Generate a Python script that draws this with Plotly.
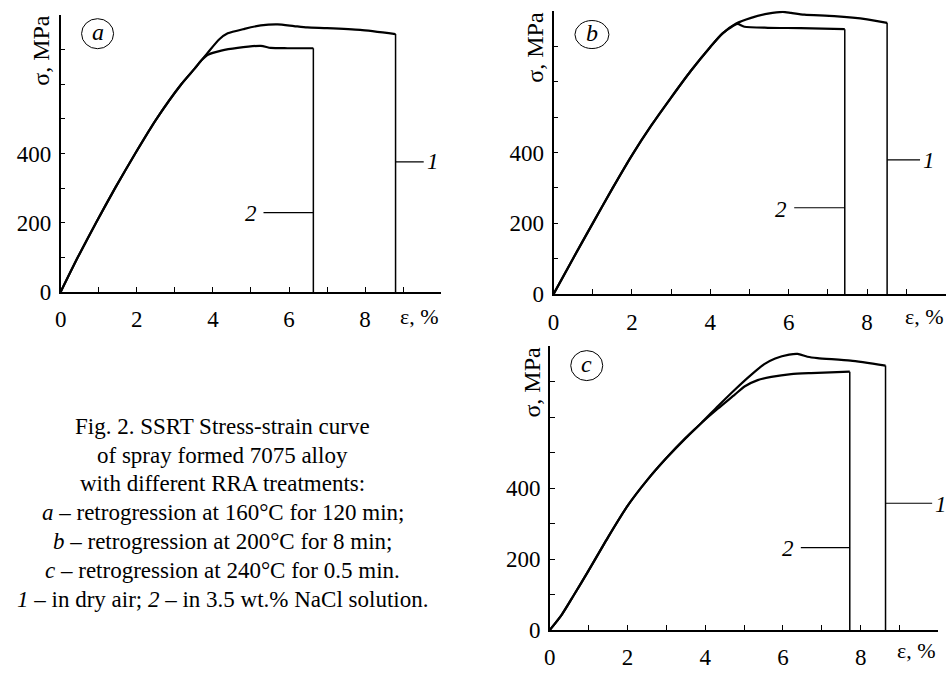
import plotly.graph_objects as go

# ---------------- data (strain %, stress MPa) ----------------
# Panel a
a_strain_common = [0, 0.45, 0.93, 1.43, 1.96, 2.52, 3.17, 3.52]
a_stress_common = [0, 100, 200, 300, 400, 500, 600, 645]
a1_strain = [3.87, 4.17, 4.39, 4.83, 5.26, 5.70, 6.13, 6.48, 7.0, 7.87, 8.80]
a1_stress = [692, 730, 747, 760, 770, 773, 768, 764, 762, 757, 745]
a2_strain = [3.70, 3.87, 4.22, 4.65, 5.26, 5.52, 5.96, 6.64]
a2_stress = [669, 685, 697, 705, 711, 705, 704, 704]

# Panel b
b_strain_common = [0, 0.5, 1.0, 1.5, 2.0, 2.5, 3.0, 3.5, 4.0, 4.3]
b_stress_common = [0, 101, 200, 298, 392, 477, 555, 630, 698, 735]
b1_strain = [4.66, 5.04, 5.47, 5.85, 6.06, 6.40, 7.16, 8.0, 8.51]
b1_stress = [764, 780, 792, 797, 794, 789, 785, 776, 766]
b2_strain = [4.62, 4.70, 4.87, 5.47, 6.31, 7.43]
b2_stress = [760, 763, 755, 752, 751, 748]

# Panel c
c_strain_common = [0, 0.3, 0.6, 1.0, 1.5, 2.0, 2.5, 3.0, 3.5, 3.9]
c_stress_common = [0, 42, 95, 168, 262, 350, 422, 485, 542, 584]
c1_strain = [4.33, 4.76, 5.18, 5.52, 5.80, 6.16, 6.38, 6.63, 6.89, 7.74, 8.64]
c1_stress = [632, 678, 720, 750, 766, 777, 779, 771, 767, 760, 746]
c2_strain = [4.33, 4.76, 5.01, 5.35, 5.70, 6.21, 6.72, 7.72]
c2_stress = [625, 664, 687, 705, 714, 722, 725, 729]

x_tick_vals = list(range(0, 11))
x_tick_text = ["0", "", "2", "", "4", "", "6", "", "8", "", ""]
y_tick_vals = list(range(0, 801, 100))
y_tick_text = ["0", "", "200", "", "400", "", "", "", ""]

panel_letters = ["a", "b", "c"]
caption_lines = [
    "Fig. 2. SSRT Stress-strain curve",
    "of spray formed 7075 alloy",
    "with different RRA treatments:",
    "<i>a</i> \u2013 retrogression at 160\u00b0C for 120 min;",
    "<i>b</i> \u2013 retrogression at 200\u00b0C for 8 min;",
    "<i>c</i> \u2013 retrogression at 240\u00b0C for 0.5 min.",
    "<i>1</i> \u2013 in dry air; <i>2</i> \u2013 in 3.5 wt.% NaCl solution.",
]

# ---------------- layout helpers ----------------
W, H = 949, 673
FONT = "Liberation Serif, Times New Roman, serif"
FS = 23


def px_x(p):
    return p / W


def px_y(p):
    return 1 - p / H


panels = [
    dict(xa="x", ya="y", xdom=(55, 438), ydom=(297.7, 15.3),
         common=(a_strain_common, a_stress_common),
         c1=(a1_strain, a1_stress), c2=(a2_strain, a2_stress),
         circ=(0.97, 746), circ_r=(16, 15),
         lead1=(9.54, 376), t1=(9.58, 376), lead2=(5.33, 229), t2=(5.2, 226),
         ytitle=(35, 51), eps_y=323),
    dict(xa="x2", ya="y2", xdom=(551, 945.5), ydom=(300, 11),
         common=(b_strain_common, b_stress_common),
         c1=(b1_strain, b1_stress), c2=(b2_strain, b2_stress),
         circ=(0.98, 733), circ_r=(17, 14),
         lead1=(9.35, 379), t1=(9.38, 376), lead2=(6.14, 244), t2=(6.0, 240),
         ytitle=(532, 48), eps_y=323),
    dict(xa="x3", ya="y3", xdom=(547.3, 938.3), ydom=(642.3, 353.3),
         common=(c_strain_common, c_stress_common),
         c1=(c1_strain, c1_stress), c2=(c2_strain, c2_stress),
         circ=(0.95, 746), circ_r=(16, 15),
         lead1=(9.84, 357.5), t1=(9.86, 355), lead2=(6.46, 232), t2=(6.34, 229),
         ytitle=(529.5, 390), eps_y=663),
]

fig = go.Figure()
shapes = []
annotations = []

for i, p in enumerate(panels):
    xa, ya = p["xa"], p["ya"]
    cs, cv = p["common"]
    for (sx, sy) in (p["c1"], p["c2"]):
        xs = cs + sx
        ys = cv + sy
        fig.add_trace(go.Scatter(x=xs, y=ys, mode="lines", xaxis=xa, yaxis=ya,
                                 line=dict(color="black", width=2.2, shape="spline", smoothing=0.6),
                                 hoverinfo="skip", showlegend=False))
        # fracture drop
        fig.add_trace(go.Scatter(x=[sx[-1], sx[-1]], y=[sy[-1], 0], mode="lines",
                                 xaxis=xa, yaxis=ya,
                                 line=dict(color="black", width=1.5),
                                 hoverinfo="skip", showlegend=False))
    # leaders
    x_end1 = p["c1"][0][-1]
    x_end2 = p["c2"][0][-1]
    shapes.append(dict(type="line", xref=xa, yref=ya, x0=x_end1, x1=p["lead1"][0],
                       y0=p["lead1"][1], y1=p["lead1"][1], line=dict(color="black", width=1.2)))
    shapes.append(dict(type="line", xref=xa, yref=ya, x0=p["lead2"][0], x1=x_end2,
                       y0=p["lead2"][1], y1=p["lead2"][1], line=dict(color="black", width=1.2)))
    annotations.append(dict(xref=xa, yref=ya, x=p["t1"][0], y=p["t1"][1], text="<i>1</i>",
                            showarrow=False, font=dict(family=FONT, size=FS, color="black"),
                            xanchor="left", yanchor="middle"))
    annotations.append(dict(xref=xa, yref=ya, x=p["t2"][0], y=p["t2"][1], text="<i>2</i>",
                            showarrow=False, font=dict(family=FONT, size=FS, color="black"),
                            xanchor="right", yanchor="middle"))
    # circled panel letter
    rx, ry = p["circ_r"]
    shapes.append(dict(type="circle", xref=xa, yref=ya, xsizemode="pixel", ysizemode="pixel",
                       xanchor=p["circ"][0], yanchor=p["circ"][1],
                       x0=-rx, x1=rx, y0=-ry, y1=ry, line=dict(color="black", width=1)))
    annotations.append(dict(xref=xa, yref=ya, x=p["circ"][0], y=p["circ"][1],
                            text="<i>%s</i>" % panel_letters[i], showarrow=False,
                            font=dict(family=FONT, size=FS + 1, color="black"),
                            xanchor="center", yanchor="middle", yshift=2))
    # y title
    annotations.append(dict(xref="paper", yref="paper", x=px_x(p["ytitle"][0]), y=px_y(p["ytitle"][1]),
                            text="\u03c3, MPa", textangle=-90, showarrow=False,
                            font=dict(family=FONT, size=FS + 1, color="black"),
                            xanchor="center", yanchor="middle"))
    # x title
    annotations.append(dict(xref=xa, yref="paper", x=10, y=px_y(p["eps_y"]),
                            text="\u03b5, %", showarrow=False,
                            font=dict(family=FONT, size=FS - 1, color="black"),
                            xanchor="right", yanchor="middle"))

    axis_common = dict(showline=True, linecolor="black", linewidth=1.6, ticks="inside",
                       ticklen=5, tickwidth=1.4, tickcolor="black", showgrid=False,
                       zeroline=False, tickmode="array",
                       tickfont=dict(family=FONT, size=FS, color="black"))
    suffix = "" if i == 0 else str(i + 1)
    fig.layout["xaxis" + suffix] = dict(axis_common, domain=[px_x(p["xdom"][0]), px_x(p["xdom"][1])],
                                        range=[0, 10], tickvals=x_tick_vals, ticktext=x_tick_text,
                                        anchor=ya, ticklabelstandoff=6)
    fig.layout["yaxis" + suffix] = dict(axis_common, domain=[px_y(p["ydom"][0]), px_y(p["ydom"][1])],
                                        range=[0, 800], tickvals=y_tick_vals, ticktext=y_tick_text,
                                        anchor=xa, ticklabelstandoff=3)

# caption
baseline0 = 441.7
step = 29.4
for k, line in enumerate(caption_lines):
    annotations.append(dict(xref="paper", yref="paper", x=px_x(218), y=px_y(baseline0 + k * step - 7),
                            text=line, showarrow=False,
                            font=dict(family=FONT, size=23, color="black"),
                            xanchor="center", yanchor="middle"))

fig.update_layout(width=W, height=H, margin=dict(l=0, r=0, t=0, b=0),
                  paper_bgcolor="white", plot_bgcolor="white", showlegend=False,
                  shapes=shapes, annotations=annotations)

fig.write_html("out.html", config={"displayModeBar": False},
               post_script="document.body.style.margin='0px';document.body.style.padding='0px';")
